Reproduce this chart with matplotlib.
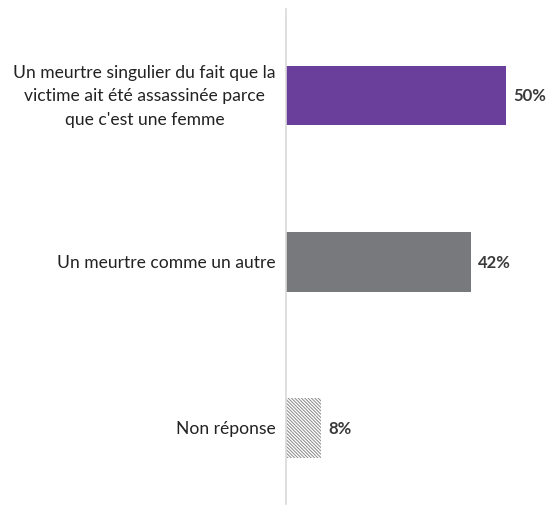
import matplotlib.pyplot as plt

categories = [
    "Un meurtre singulier du fait que la\nvictime ait été assassinée parce\nque c'est une femme",
    "Un meurtre comme un autre",
    "Non réponse",
]
values = [50, 42, 8]
value_labels = ["50%", "42%", "8%"]

plt.rcParams['font.family'] = ['Lato', 'DejaVu Sans']
plt.rcParams['hatch.linewidth'] = 0.7

fig = plt.figure(figsize=(5.49, 5.06), dpi=100)
ax = fig.add_axes([286 / 549, 1 / 506, 263 / 549, 495 / 506])

colors = ['#6a3f9c', '#77797c', 'white']
ypos = range(len(categories))
bars = ax.barh(ypos, values, height=0.36, color=colors, linewidth=0)
bars[2].set_edgecolor('#8a8a8a')
bars[2].set_hatch('\\' * 10)

for y, v, lab in zip(ypos, values, value_labels):
    ax.text(v + 1.6, y, lab, va='center', ha='left', fontsize=12,
            fontweight='bold', color='#3a3a3a')

for y, cat in zip(ypos, categories):
    ax.text(-2.3, y, cat, va='center', ha='right', fontsize=12.6,
            color='#222222', linespacing=1.6, multialignment='center')

ax.set_xlim(0, 59.8)
ax.set_ylim(2.456, -0.52)
ax.set_xticks([])
ax.set_yticks([])
for s in ['top', 'right', 'bottom']:
    ax.spines[s].set_visible(False)
ax.spines['left'].set_color('#d9d9d9')
ax.spines['left'].set_linewidth(1.2)

fig.savefig('out.png', dpi=100)
